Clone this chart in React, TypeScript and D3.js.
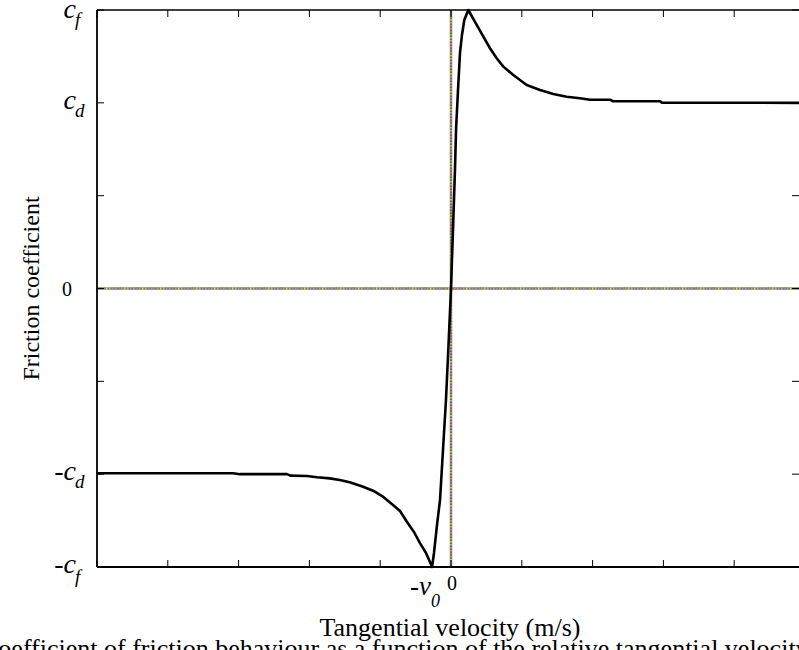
import React from "react";
import * as d3 from "d3";

// ---- data ----
const curveX: number[] = [
  -5.0, -3.079, -2.98, -2.316, -2.27, -2.034, -1.892, -1.713, -1.571, -1.43, -1.242, -1.101,
  -0.96, -0.819, -0.72, -0.621, -0.523, -0.438, -0.353, -0.297, -0.268,
  -0.24, -0.198, -0.155, -0.113, -0.071, -0.035, 0, 0.028, 0.056, 0.071, 0.099, 0.127, 0.155, 0.188, 0.244,
  0.363, 0.457, 0.551, 0.645, 0.739, 0.88, 1.069, 1.257, 1.445, 1.634, 1.822, 1.963,
  2.246, 2.288, 2.952, 2.98, 5.0,
];
const curveY: number[] = [
  -1.99, -1.99, -2.0, -2.0, -2.016, -2.02, -2.034, -2.045, -2.063, -2.088, -2.135, -2.178,
  -2.243, -2.332, -2.397, -2.515, -2.623, -2.742, -2.849, -2.946, -3.0,
  -2.849, -2.548, -2.278, -1.74, -1.201, -0.609, 0, 0.63, 1.277, 1.707, 2.138, 2.537, 2.731, 2.892, 3.0,
  2.839, 2.713, 2.588, 2.48, 2.39, 2.3, 2.192, 2.138, 2.095, 2.066, 2.049, 2.034,
  2.034, 2.017, 2.017, 2.002, 2.0,
];
const xTicks: number[] = [-5, -4, -3, -2, -1, 0, 1, 2, 3, 4, 5];
const yTicks: number[] = [-3, -2, -1, 0, 1, 2, 3];
// y labels: [value, main, subscript]
const yLabels: [number, string, string][] = [
  [3, "c", "f"],
  [2, "c", "d"],
  [-2, "-c", "d"],
  [-3, "-c", "f"],
];
const v0 = -0.268;
const dotColors = ["#e58a8a", "#8a8ae5", "#7cc47c", "#e0cf6a", "#74cfcf", "#cf7acf"];

const W = 799;
const H = 650;
const font = "'Liberation Serif', 'Times New Roman', serif";

export default function App() {
  const x = d3.scaleLinear().domain([-5, 5]).range([97, 805]);
  const y = d3.scaleLinear().domain([-3, 3]).range([567, 10]);
  const pts: [number, number][] = curveX.map((v, i) => [v, curveY[i]]);
  const line = d3
    .line<[number, number]>()
    .x((d) => x(d[0]))
    .y((d) => y(d[1]));
  const tl = 7;
  const x0 = x(0);
  const y0 = y(0);
  const rightEdge = W;

  return (
    <svg
      width={W}
      height={H}
      style={{ position: "absolute", left: 0, top: 0, background: "#fff" }}
      fontFamily={font}
    >
      <rect width={W} height={H} fill="#fff" />
      {/* zero lines */}
      <line x1={x(-5)} x2={rightEdge} y1={y0} y2={y0} stroke="#85774f" strokeWidth={2.5} />
      {dotColors.map((c, i) => (
        <line
          key={"h" + i}
          x1={x(-5)}
          x2={rightEdge}
          y1={y0}
          y2={y0}
          stroke={c}
          strokeWidth={2.5}
          strokeDasharray="1.5 16.5"
          strokeDashoffset={-i * 3}
        />
      ))}
      <line x1={x0} x2={x0} y1={y(3)} y2={y(-3)} stroke="#7f6f45" strokeWidth={2.4} />
      {dotColors.map((c, i) => (
        <line
          key={"v" + i}
          x1={x0}
          x2={x0}
          y1={y(3)}
          y2={y(-3)}
          stroke={c}
          strokeWidth={1.5}
          strokeDasharray="1.5 16.5"
          strokeDashoffset={-i * 3}
        />
      ))}
      {/* frame */}
      <line x1={x(-5)} x2={rightEdge} y1={y(3)} y2={y(3)} stroke="#000" strokeWidth={1.5} />
      <line x1={x(-5)} x2={rightEdge} y1={y(-3)} y2={y(-3)} stroke="#000" strokeWidth={1.8} />
      <line x1={x(-5)} x2={x(-5)} y1={y(3)} y2={y(-3)} stroke="#000" strokeWidth={1.8} />
      {/* ticks */}
      {xTicks.map((t) => (
        <g key={"xt" + t}>
          <line x1={x(t)} x2={x(t)} y1={y(3)} y2={y(3) + tl} stroke="#000" strokeWidth={1} />
          <line x1={x(t)} x2={x(t)} y1={y(-3)} y2={y(-3) - tl} stroke="#000" strokeWidth={1} />
        </g>
      ))}
      {yTicks.map((t) => (
        <g key={"yt" + t}>
          <line x1={x(-5)} x2={x(-5) + tl} y1={y(t)} y2={y(t)} stroke="#000" strokeWidth={1} />
          <line x1={rightEdge - tl} x2={rightEdge} y1={y(t)} y2={y(t)} stroke="#000" strokeWidth={1} />
        </g>
      ))}
      {/* curve */}
      <path d={line(pts) || ""} fill="none" stroke="#000" strokeWidth={2.6} strokeLinejoin="round" />
      {/* y tick labels */}
      {yLabels.map(([v, m, s]) => (
        <g key={"yl" + v}>
          <text x={76} y={Math.max(y(v) + 6, 18)} fontSize={28} fontStyle="italic" textAnchor="end" fill="#000">
            {m}
          </text>
          <text x={75} y={y(v) + (s === "f" ? 16 : 14)} fontSize={19} fontStyle="italic" fill="#000">
            {s}
          </text>
        </g>
      ))}
      <text x={67} y={y(0) + 7} fontSize={20} textAnchor="middle" fill="#000">
        0
      </text>
      {/* x tick labels */}
      <text x={x(v0) - 1} y={595} fontSize={27} fontStyle="italic" textAnchor="end" fill="#000">
        -v
      </text>
      <text x={x(v0) - 1} y={607} fontSize={18} fontStyle="italic" fill="#000">
        0
      </text>
      <text x={x0 + 1} y={590} fontSize={20} textAnchor="middle" fill="#000">
        0
      </text>
      {/* axis titles */}
      <text x={450} y={636} fontSize={26} textAnchor="middle" fill="#000">
        Tangential velocity (m/s)
      </text>
      <text
        transform={`translate(39, ${y0}) rotate(-90)`}
        fontSize={24}
        textAnchor="middle"
        fill="#000"
      >
        Friction coefficient
      </text>
      {/* cut caption */}
      <text x={-19} y={657} fontSize={26} fill="#000">
        Coefficient of friction behaviour as a function of the relative tangential velocity
      </text>
    </svg>
  );
}
